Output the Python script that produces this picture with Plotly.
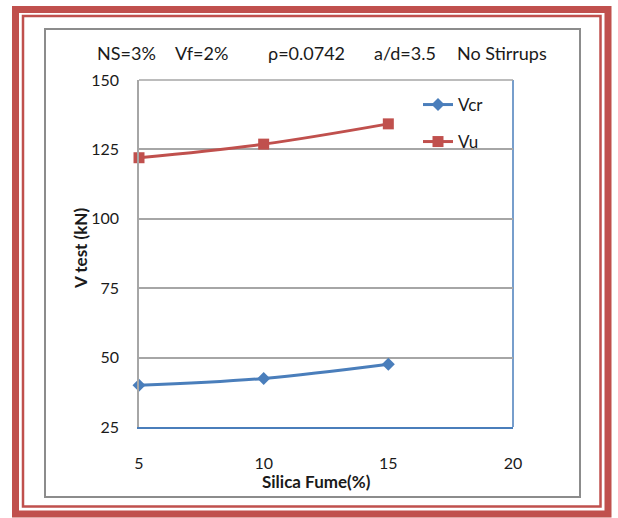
import plotly.graph_objects as go

silica_fume = [5, 10, 15]
v_cr = [40.0, 42.5, 47.6]
v_u = [122.0, 126.9, 134.2]
y_ticks = [25, 50, 75, 100, 125, 150]
x_ticks = [5, 10, 15, 20]
title_parts = ["NS=3%", "Vf=2%", "ρ=0.0742", "a/d=3.5", "No Stirrups"]

W, H = 618, 518
L, R, T, B = 139, 513, 80, 427
FONT = "Lato, 'Open Sans', sans-serif"
BLUE = "#4a7ebb"
RED = "#c0504d"


def fx(px):
    return (px - L) / (R - L)


def fy(py):
    return (B - py) / (B - T)


fig = go.Figure()
fig.add_trace(go.Scatter(
    x=silica_fume, y=v_cr, name="Vcr", mode="lines+markers",
    line=dict(color=BLUE, width=3, shape="spline"),
    marker=dict(symbol="diamond", size=10, color=BLUE),
    legend="legend", cliponaxis=False,
))
fig.add_trace(go.Scatter(
    x=silica_fume, y=v_u, name="Vu", mode="lines+markers",
    line=dict(color=RED, width=3, shape="spline"),
    marker=dict(symbol="square", size=11, color=RED),
    legend="legend2", cliponaxis=False,
))

shapes = []
# decorative frames
shapes.append(dict(type="rect", xref="paper", yref="paper",
                   x0=fx(15.5), x1=fx(608), y0=fy(9.5), y1=fy(514),
                   line=dict(color=RED, width=7), layer="above"))
shapes.append(dict(type="rect", xref="paper", yref="paper",
                   x0=fx(23), x1=fx(600.5), y0=fy(16), y1=fy(506.5),
                   line=dict(color=RED, width=2.5), layer="above"))
shapes.append(dict(type="rect", xref="paper", yref="paper",
                   x0=fx(45), x1=fx(580), y0=fy(29), y1=fy(497),
                   line=dict(color="#8c8c8c", width=2), layer="above"))
# plot-area edges
shapes.append(dict(type="line", xref="x domain", yref="y domain",
                   x0=1, x1=1, y0=0, y1=1, line=dict(color=BLUE, width=1.5),
                   layer="below"))
shapes.append(dict(type="line", xref="x domain", yref="y domain",
                   x0=0, x1=1, y0=1, y1=1, line=dict(color="#a6a6a6", width=1.5),
                   layer="below"))

title_x = [126, 201, 306, 405, 502]
annotations = []
for t, cx in zip(title_parts, title_x):
    annotations.append(dict(text=t, x=fx(cx), y=fy(53), xref="paper", yref="paper",
                            showarrow=False, xanchor="center", yanchor="middle",
                            font=dict(family=FONT, size=18, color="#1a1a1a")))
annotations.append(dict(text="<b>Silica Fume(%)</b>", x=fx(316), y=fy(482),
                        xref="paper", yref="paper", showarrow=False,
                        xanchor="center", yanchor="middle",
                        font=dict(family=FONT, size=17, color="#1a1a1a")))
annotations.append(dict(text="<b>V test (kN)</b>", x=fx(80), y=fy(249),
                        xref="paper", yref="paper", showarrow=False, textangle=-90,
                        xanchor="center", yanchor="middle",
                        font=dict(family=FONT, size=17, color="#1a1a1a")))

fig.update_layout(
    width=W, height=H,
    margin=dict(l=L, r=W - R, t=T, b=H - B, pad=0),
    paper_bgcolor="white", plot_bgcolor="white",
    font=dict(family=FONT, size=16, color="#1a1a1a"),
    showlegend=True,
    legend=dict(x=fx(418), y=fy(105), xanchor="left", yanchor="middle",
                bgcolor="rgba(0,0,0,0)", font=dict(family=FONT, size=17)),
    legend2=dict(x=fx(418), y=fy(142), xanchor="left", yanchor="middle",
                 bgcolor="rgba(0,0,0,0)", font=dict(family=FONT, size=17)),
    xaxis=dict(range=[5, 20], tickvals=x_ticks, showgrid=False, zeroline=False,
               showline=True, linecolor=BLUE, linewidth=1.5,
               ticks="outside", ticklen=21, tickcolor="rgba(0,0,0,0)",
               tickfont=dict(family=FONT, size=16, color="#1a1a1a")),
    yaxis=dict(range=[25, 150], tickvals=y_ticks, showgrid=True, gridcolor="#a6a6a6",
               gridwidth=1.5, zeroline=False,
               showline=True, linecolor="#a6a6a6", linewidth=1.5,
               ticks="outside", ticklen=15, tickcolor="rgba(0,0,0,0)",
               tickfont=dict(family=FONT, size=16, color="#1a1a1a")),
    shapes=shapes, annotations=annotations,
)

fig.write_html("out.html")
